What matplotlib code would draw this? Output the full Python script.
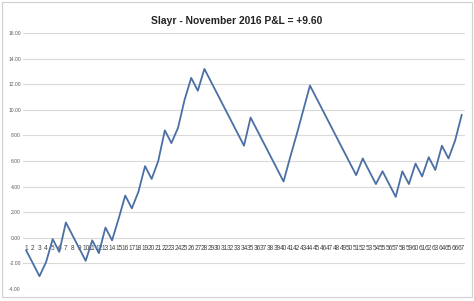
"""Slayr monthly P&L curve, Excel-style line chart."""

import matplotlib
matplotlib.use('Agg')
import matplotlib.pyplot as plt
from matplotlib.patches import Rectangle

title = "Slayr - November 2016 P&L = +9.60"

trades = list(range(1, 68))
pnl = [-1.0, -2.0, -3.0, -1.9, -0.1, -1.1, 1.2, 0.2, -0.8, -1.8,
       -0.2, -1.2, 0.8, -0.2, 1.5, 3.3, 2.3, 3.6, 5.6, 4.6,
       6.0, 8.4, 7.4, 8.6, 10.8, 12.5, 11.5, 13.2, 12.2, 11.2,
       10.2, 9.2, 8.2, 7.2, 9.4, 8.4, 7.4, 6.4, 5.4, 4.4,
       6.3, 8.1, 10.0, 11.9, 10.9, 9.9, 8.9, 7.9, 6.9, 5.9,
       4.9, 6.2, 5.2, 4.2, 5.2, 4.2, 3.2, 5.2, 4.2, 5.8,
       4.8, 6.3, 5.3, 7.2, 6.2, 7.6, 9.6]

yticks = [-4, -2, 0, 2, 4, 6, 8, 10, 12, 14, 16]

plt.rcParams['font.family'] = ['Liberation Sans Narrow', 'Liberation Sans', 'DejaVu Sans']

fig = plt.figure(figsize=(4.74, 3.01), dpi=100)
fig.patches.append(Rectangle((0.004, 0.013), 0.992, 0.98, transform=fig.transFigure,
                             fill=False, edgecolor='#d0d0d0', linewidth=0.8))

ax = fig.add_axes([0.0485, 0.040, 0.9325, 0.850])
ax.plot(trades, pnl, color='#4a6fa5', linewidth=1.3, zorder=3)

# category axis crosses at zero, like excel does
ax.spines['bottom'].set_position(('data', 0))
for s in ['top', 'right', 'left', 'bottom']:
    ax.spines[s].set_visible(False)

ax.set_xlim(0.5, 67.5)
ax.set_ylim(-4, 16)
ax.set_yticks(yticks)
ax.set_yticklabels(["%.2f" % v for v in yticks])
ax.yaxis.grid(True, color='#d9d9d9', linewidth=0.8)
ax.set_axisbelow(True)

ax.set_xticks(trades)
ax.set_xticklabels([str(t) for t in trades])
ax.tick_params(axis='both', length=0)
ax.tick_params(axis='x', pad=5.0, labelsize=4.7, labelcolor='#404040')
ax.tick_params(axis='y', pad=1.5, labelsize=3.6, labelcolor='#595959')

fig.text(0.5, 0.930, title, ha='center', va='center', fontsize=7.4,
         fontweight='bold', color='#222222')

fig.savefig('out.png', dpi=100)
